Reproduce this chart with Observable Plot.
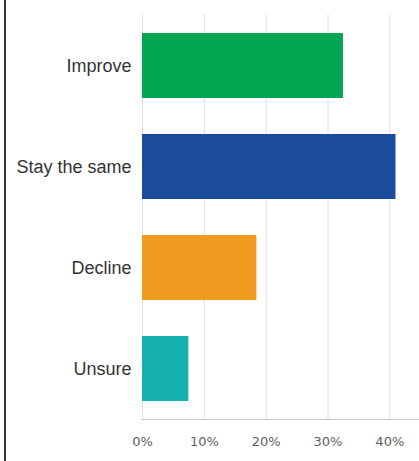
<!DOCTYPE html>
<html>
<head>
<meta charset="utf-8">
<script src="https://cdn.jsdelivr.net/npm/d3@7"></script>
<script src="https://cdn.jsdelivr.net/npm/@observablehq/plot@0.6"></script>
<style>
  html, body { margin: 0; padding: 0; background: #fff; }
  #frame { position: absolute; left: 4px; top: 0; width: 415px; height: 461px; border-left: 2px solid #333; overflow: hidden; }
</style>
</head>
<body>
<div id="frame"></div>
<script>
const categories = ["Improve", "Stay the same", "Decline", "Unsure"];
const values = [0.325, 0.41, 0.185, 0.075];
const colors = ["#00a651", "#1b4b9b", "#f09a22", "#17b0b0"];
const xTicks = [0, 0.1, 0.2, 0.3, 0.4];

const data = categories.map((c, i) => ({category: c, value: values[i], color: colors[i]}));
const pct = d => Math.round(d * 100) + "%";

const chart = Plot.plot({
  width: 413,
  height: 461,
  marginLeft: 136,
  marginRight: 0,
  marginTop: 14,
  marginBottom: 42,
  style: {fontFamily: "'Liberation Sans', Arial, sans-serif", background: "#fff"},
  x: {domain: [0, 0.448], ticks: xTicks, tickFormat: pct, label: null},
  y: {domain: categories, paddingInner: 0.36, paddingOuter: 0.18, label: null},
  marks: [
    Plot.gridX(xTicks, {stroke: "#e0e0e0", strokeOpacity: 1, strokeWidth: 1}),
    Plot.barX(data, {x: "value", y: "category", fill: "color"}),
    Plot.frame({anchor: "bottom", stroke: "#c8c8c8", strokeOpacity: 1}),
    Plot.axisX(xTicks, {tickSize: 0, tickPadding: 17, fontSize: 13, fill: "#606060", fontFamily: "'DejaVu Sans', sans-serif", style: {letterSpacing: "0.5px"}, tickFormat: pct, label: null}),
    Plot.axisY({tickSize: 0, tickPadding: 11, fontSize: 18, fill: "#333", label: null})
  ]
});
document.getElementById("frame").appendChild(chart);
</script>
</body>
</html>
